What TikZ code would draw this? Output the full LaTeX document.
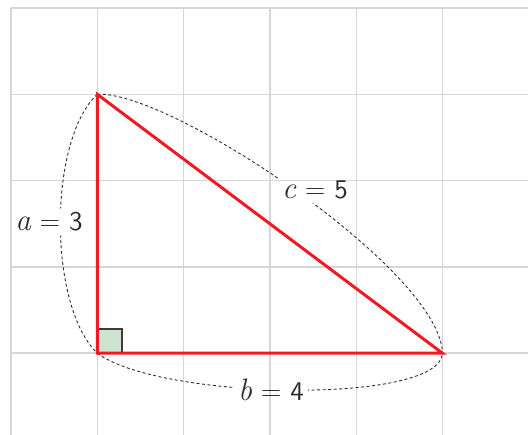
\documentclass[tikz,border=0pt]{standalone}
\usepackage{fontspec}
\newfontfamily\numfont[Extension=.otf]{lmsans10-regular}
\definecolor{gridgray}{RGB}{214,214,214}
\definecolor{trired}{RGB}{237,28,36}
\definecolor{sqgreen}{RGB}{204,229,209}
\definecolor{inkgray}{RGB}{45,45,45}
\definecolor{sqedge}{RGB}{60,60,60}
\newcommand{\eqlbl}[2]{{\fontsize{31}{31}\selectfont\itshape #1}\hspace{9pt}{\fontsize{28}{28}\selectfont =}\hspace{9pt}{\numfont\fontsize{27}{27}\selectfont #2}}
\tikzset{
  gridline/.style={draw=gridgray, line width=1.4pt},
  side/.style={draw=trired, line width=3pt, line join=miter},
  brace/.style={draw=inkgray, line width=0.9pt, dash pattern=on 3pt off 2.5pt},
  lbl/.style={text=inkgray, inner sep=4pt, anchor=center},
  rightmark/.style={draw=sqedge, fill=sqgreen, line width=2pt}
}
\begin{document}
\begin{tikzpicture}[x=1pt,y=-1pt]
\useasboundingbox (0,0) rectangle (528,435);
% grid
\foreach \gx in {11,97.3,183.6,269.9,356.2,442.5}
  \draw[gridline] (\gx,8) -- (\gx,435);
\foreach \gy in {8,94.3,180.6,266.9,353.2}
  \draw[gridline] (11,\gy) -- (528,\gy);
% vertices
\coordinate (A) at (97.3,94.3);
\coordinate (C) at (97.3,353.2);
\coordinate (B) at (442.5,353.2);
% labels
\node[lbl] (la) at (49,222) {\eqlbl{a}{3}};
\node[lbl] (lc) at (315,190) {\eqlbl{c}{5}};
\node[lbl] (lb) at (271,390) {\eqlbl{b}{4}};
% dashed curves, with gaps at the labels
\begin{scope}[even odd rule]
  \clip (-10,-10) rectangle (540,445)
    (la.south west) rectangle (la.north east)
    (lc.south west) rectangle (lc.north east)
    (lb.south west) rectangle (lb.north east);
  \draw[brace] (A) .. controls (48,140) and (48,306) .. (C);
  \draw[brace] (A) .. controls (170,90) and (440,270) .. (B);
  \draw[brace] (C) .. controls (160,400) and (440,405) .. (B);
\end{scope}
% right angle mark
\draw[rightmark] (C) rectangle ++(24.5,-24.5);
% triangle
\draw[side] (A) -- (C) -- (B) -- cycle;
\end{tikzpicture}
\end{document}
